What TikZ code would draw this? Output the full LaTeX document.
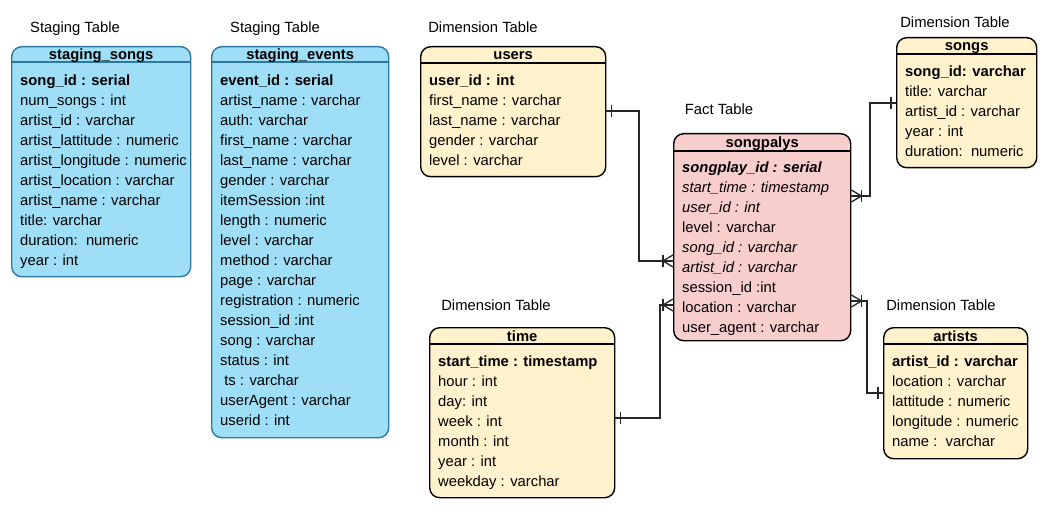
\documentclass[tikz,border=0pt]{standalone}
\usepackage{fontspec}
\setmainfont{Liberation Sans}
\definecolor{bluefill}{RGB}{158,222,246}
\definecolor{bluestroke}{RGB}{46,120,160}
\definecolor{yellowfill}{RGB}{255,242,204}
\definecolor{pinkfill}{RGB}{248,206,204}
\tikzset{
  tbox/.style={draw, rounded corners=10pt, line width=1.4pt, inner sep=0pt},
  bluetbl/.style={tbox, fill=bluefill, draw=bluestroke},
  yellowtbl/.style={tbox, fill=yellowfill, draw=black},
  pinktbl/.style={tbox, fill=pinkfill, draw=black},
  bluetblline/.style={draw=bluestroke, line width=1.2pt},
  yellowtblline/.style={draw=black, line width=1.2pt},
  pinktblline/.style={draw=black, line width=1.2pt},
  titletext/.style={font=\fontsize{14.8}{18}\selectfont\bfseries, inner sep=0pt, text height=11pt, text depth=3pt},
  rowtext/.style={font=\fontsize{14.8}{18}\selectfont, inner sep=0pt, anchor=west, text height=11pt, text depth=3pt},
  lbl/.style={font=\fontsize{14.8}{18}\selectfont, inner sep=0pt, text height=11pt, text depth=3pt},
  conn/.style={line width=1.3pt, draw=black!85},
  crow/.pic={\draw[conn] (0,-6) -- (-10,0) -- (0,6); \draw[conn] (-10,-6) -- (-10,6);},
  onebar/.pic={\draw[conn] (-5,-6) -- (-5,6);},
}
\newcommand\erTable[9]{%
  \node[#7, minimum width=#4, minimum height=#5, anchor=north west] (#1) at (#2,#3) {};
  \draw[#7line] ([yshift=-#6]#1.north west) -- ([yshift=-#6]#1.north east);
  \node[titletext] (#1-title) at ([yshift=-#6/2-1.5]#1.north) {#8};
  \foreach \r [count=\i] in {#9} {
    \node[rowtext] (#1-row\i) at ([xshift=9, yshift={-35.5-20*(\i-1)}]#1.north west) {\r};
  }%
}
\begin{document}
\begin{tikzpicture}[x=1pt, y=-1pt]
\useasboundingbox (0,0) rectangle (1061,516);

% labels
\node[lbl] (l1) at (75,29) {Staging Table};
\node[lbl] (l2) at (275,29) {Staging Table};
\node[lbl] (l3) at (483,29) {Dimension Table};
\node[lbl] (l4) at (719,111) {Fact Table};
\node[lbl] (l5) at (955,24) {Dimension Table};
\node[lbl] (l6) at (496,306) {Dimension Table};
\node[lbl] (l7) at (941,306) {Dimension Table};

\erTable{ss}{11}{46}{179}{230}{16}{bluetbl}{staging\_songs}{%
  \textbf{song\_id : serial},num\_songs : int,artist\_id : varchar,artist\_lattitude : numeric,artist\_longitude : numeric,artist\_location : varchar,artist\_name : varchar,title: varchar,duration:\ \ numeric,year : int}

\erTable{se}{211}{46}{177}{391}{16}{bluetbl}{staging\_events}{%
  \textbf{event\_id : serial},artist\_name : varchar,auth: varchar,first\_name : varchar,last\_name : varchar,gender : varchar,itemSession :int,length : numeric,level : varchar,method : varchar,page : varchar,registration : numeric,session\_id :int,song : varchar,status : int,\ ts : varchar,userAgent : varchar,userid : int}

\erTable{users}{420}{46}{185}{130}{17}{yellowtbl}{users}{%
  \textbf{user\_id : int},first\_name : varchar,last\_name : varchar,gender : varchar,level : varchar}

\erTable{songs}{896}{37}{140}{130}{17}{yellowtbl}{songs}{%
  \textbf{song\_id: varchar},title: varchar,artist\_id : varchar,year : int,duration:\ \ numeric}

\erTable{sp}{673}{133}{177}{207}{18}{pinktbl}{songpalys}{%
  \textbf{\itshape songplay\_id : serial},\itshape start\_time : timestamp,\itshape user\_id : int,level : varchar,\itshape song\_id : varchar,\itshape artist\_id : varchar,session\_id :int,location : varchar,user\_agent : varchar}

\erTable{time}{429}{327}{185}{170}{17}{yellowtbl}{time}{%
  \textbf{start\_time : timestamp},hour : int,day: int,week : int,month : int,year : int,weekday : varchar}

\erTable{artists}{883}{327}{144}{131}{17}{yellowtbl}{artists}{%
  \textbf{artist\_id : varchar},location : varchar,lattitude : numeric,longitude : numeric,name :\ \ varchar}

% attachment points
\coordinate (uA) at (users.east |- 0,111);
\coordinate (spL1) at (sp.west |- 0,261);
\coordinate (spR1) at (sp.east |- 0,196);
\coordinate (sgA) at (songs.west |- 0,103);
\coordinate (tA) at (time.east |- 0,418);
\coordinate (spL2) at (sp.west |- 0,305);
\coordinate (spR2) at (sp.east |- 0,301);
\coordinate (arA) at (artists.west |- 0,393);

% connectors
\draw[conn] (uA) -| (639,186) |- (spL1);
\draw[conn] (spR1) -| (870,150) |- (sgA);
\draw[conn] (tA) -| (660,360) |- (spL2);
\draw[conn] (spR2) -| (867,350) |- (arA);

% ER marks
\pic at (uA) [xscale=-1] {onebar};
\pic at (spL1) {crow};
\pic at (spR1) [xscale=-1] {crow};
\pic at (sgA) {onebar};
\pic at (tA) [xscale=-1] {onebar};
\pic at (spL2) {crow};
\pic at (spR2) [xscale=-1] {crow};
\pic at (arA) {onebar};
\end{tikzpicture}
\end{document}
